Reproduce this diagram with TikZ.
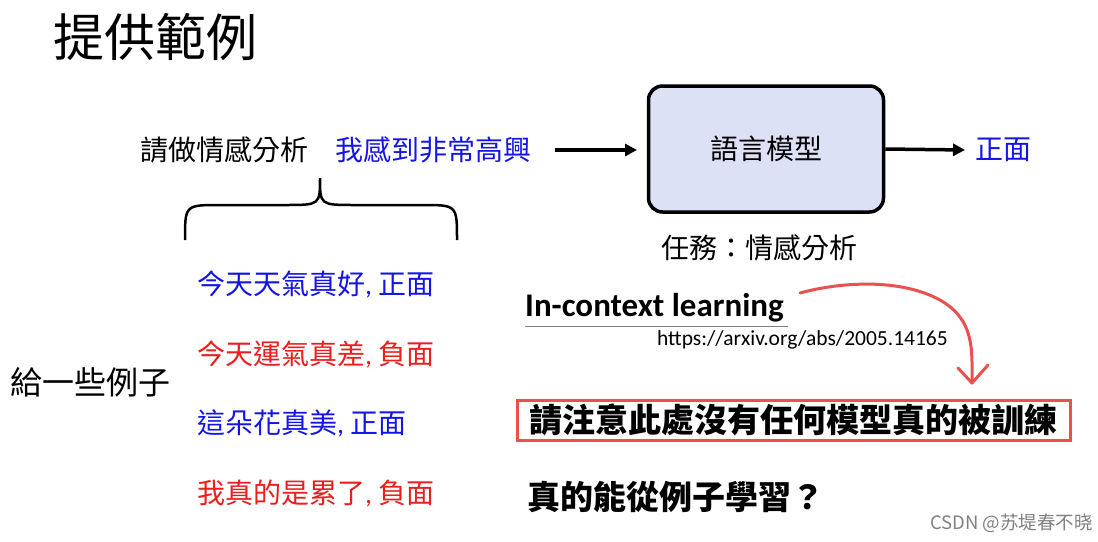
\documentclass[tikz,border=0pt]{standalone}
\usetikzlibrary{arrows.meta}
\usepackage{fontspec}
\setmainfont{Carlito}
\newfontfamily\cjk{Noto Sans CJK TC}
\definecolor{myblue}{RGB}{20,20,230}
\definecolor{myred}{RGB}{235,30,30}
\definecolor{boxred}{RGB}{235,80,80}
\definecolor{boxfill}{RGB}{220,225,245}
\begin{document}
\begin{tikzpicture}[x=1pt,y=-1pt,
  txt/.style={font=\cjk\fontsize{28}{30}\selectfont,inner sep=0pt},
  arr/.style={line width=3.5pt,-{Triangle[length=12pt,width=12pt]}}]
\useasboundingbox (0,0) rectangle (1098,541);
\node[inner sep=0pt,anchor=west,font=\cjk\fontsize{51}{53}\selectfont] (title) at (53,37) {提供範例};
\node[txt,anchor=west] (q) at (140,150) {請做情感分析};
\node[txt,anchor=west,text=myblue] (inp) at (335,150) {我感到非常高興};
\node[draw,line width=3.5pt,rounded corners=14pt,fill=boxfill,minimum width=235pt,minimum height=126pt,txt] (lm) at (766,149) {語言模型};
\coordinate (a1) at (555,150);
\coordinate (a2) at (637,150);
\draw[arr] (a1) -- (a2);
\node[txt,anchor=west,text=myblue] (out) at (975,150) {正面};
\draw[arr] (lm.east) -- (965,150);
\node[txt] (task) at (759,248) {任務：情感分析};
\draw[line width=2.5pt] (185,240) .. controls (185,205) .. (220,205) -- (285,205) .. controls (320,205) .. (320,178) .. controls (320,205) .. (355,205) -- (422,205) .. controls (457,205) .. (457,240);
\node[txt,anchor=west,text=myblue] (e1) at (197,284) {今天天氣真好{\fontspec{Carlito}, }正面};
\node[txt,anchor=west,text=myred] (e2) at (197,354) {今天運氣真差{\fontspec{Carlito}, }負面};
\node[txt,anchor=west,text=myblue] (e3) at (197,423) {這朵花真美{\fontspec{Carlito}, }正面};
\node[txt,anchor=west,text=myred] (e4) at (197,493) {我真的是累了{\fontspec{Carlito}, }負面};
\node[txt,anchor=west,font=\cjk\fontsize{32}{34}\selectfont] (give) at (10,382) {給一些例子};
\node[inner sep=0pt,anchor=west,font=\bfseries\fontsize{33}{35}\selectfont] (icl) at (525,308) {In-context learning};
\draw[gray,line width=1pt] (525,326) -- (788,326);
\node[inner sep=0pt,anchor=east,font=\fontsize{21.5}{23}\selectfont] (url) at (948,340) {https://arxiv.org/abs/2005.14165};
\node[draw=boxred,line width=3pt,minimum width=553pt,minimum height=40pt,font=\cjk\bfseries\fontsize{33}{35}\selectfont,inner sep=0pt] (note) at (793.5,420) {請注意此處沒有任何模型真的被訓練};
\node[inner sep=0pt,anchor=west,font=\cjk\bfseries\fontsize{33}{35}\selectfont] (q2) at (527,497) {真的能從例子學習？};
\draw[boxred,line width=3pt,line cap=round,line join=round] (800,293) .. controls (840,282) and (900,278) .. (940,300) .. controls (975,320) and (972,350) .. (972,383);
\draw[boxred,line width=3pt,line cap=round,line join=round] (958,368) -- (972,383) -- (988,365);
\node[inner sep=0pt,anchor=east,text=gray,font=\cjk\fontsize{18.5}{20}\selectfont] (wm) at (1093,523) {CSDN @苏堤春不晓};
\end{tikzpicture}
\end{document}
